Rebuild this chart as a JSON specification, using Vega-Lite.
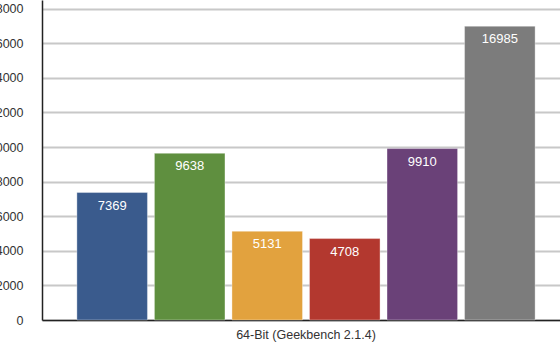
{
  "$schema": "https://vega.github.io/schema/vega-lite/v6.json",
  "width": 528,
  "height": 320,
  "autosize": {"type": "none"},
  "padding": {"left": 42, "top": 0, "right": 0, "bottom": 30},
  "background": "white",
  "config": {"view": {"stroke": null}, "font": "Liberation Sans"},
  "data": {
    "values": [
      {"benchmark": "64-Bit (Geekbench 2.1.4)", "system": "System 1", "score": 7369},
      {"benchmark": "64-Bit (Geekbench 2.1.4)", "system": "System 2", "score": 9638},
      {"benchmark": "64-Bit (Geekbench 2.1.4)", "system": "System 3", "score": 5131},
      {"benchmark": "64-Bit (Geekbench 2.1.4)", "system": "System 4", "score": 4708},
      {"benchmark": "64-Bit (Geekbench 2.1.4)", "system": "System 5", "score": 9910},
      {"benchmark": "64-Bit (Geekbench 2.1.4)", "system": "System 6", "score": 16985}
    ]
  },
  "encoding": {
    "x": {
      "field": "benchmark",
      "type": "nominal",
      "scale": {"paddingInner": 0, "paddingOuter": 0},
      "axis": {
        "title": null,
        "labelAngle": 0,
        "ticks": false,
        "domainColor": "#222",
        "domainWidth": 1.5,
        "labelFontSize": 12.5,
        "labelColor": "#333",
        "labelPadding": 8
      }
    },
    "xOffset": {
      "field": "system",
      "type": "nominal",
      "scale": {"paddingInner": 0.09, "paddingOuter": 0.45}
    },
    "y": {
      "field": "score",
      "type": "quantitative",
      "scale": {"domain": [0, 18500], "nice": false},
      "axis": {
        "title": null,
        "values": [0, 2000, 4000, 6000, 8000, 10000, 12000, 14000, 16000, 18000],
        "format": "d",
        "ticks": false,
        "labelPadding": 19,
        "labelFontSize": 12.5,
        "labelColor": "#333",
        "domainColor": "#222",
        "domainWidth": 1.5,
        "gridColor": "#c8c8c8",
        "gridWidth": 2
      }
    }
  },
  "layer": [
    {
      "mark": {"type": "bar", "stroke": "#ffffff", "strokeOpacity": 0.35, "strokeWidth": 1},
      "encoding": {
        "color": {
          "field": "system",
          "type": "nominal",
          "scale": {"range": ["#3a5b8d", "#5f8f3f", "#e2a23e", "#b3382f", "#6a4178", "#7c7c7c"]},
          "legend": null
        }
      }
    },
    {
      "mark": {"type": "text", "baseline": "top", "dy": 7, "color": "white", "fontSize": 13},
      "encoding": {
        "text": {"field": "score", "type": "quantitative", "format": "d"}
      }
    }
  ]
}
